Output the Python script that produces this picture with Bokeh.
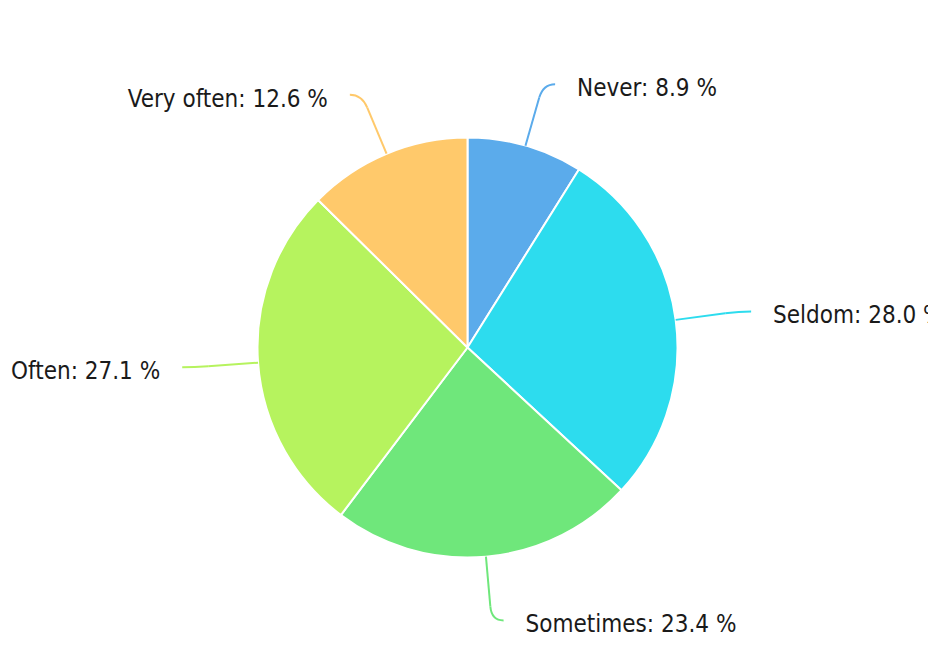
import math
from bokeh.plotting import figure
from bokeh.models import Range1d, ColumnDataSource
from bokeh.core.properties import value
from bokeh.embed import file_html
from bokeh.resources import INLINE

categories = ["Never", "Seldom", "Sometimes", "Often", "Very often"]
percent = [8.9, 28.0, 23.4, 27.1, 12.6]
colors = ["#5babeb", "#2ddcee", "#6fe77b", "#b6f35e", "#ffc96b"]

W, H = 928, 667
CX, CY = 467, H - 347
R = 210

p = figure(width=W, height=H, output_backend="svg", toolbar_location=None,
           x_axis_type=None, y_axis_type=None, min_border=0,
           x_range=Range1d(0, W), y_range=Range1d(0, H))
p.outline_line_color = None
p.grid.visible = False
p.background_fill_color = "white"
p.border_fill_color = "white"

total = sum(percent)
starts, ends, mids = [], [], []
cum = 0.0
for v in percent:
    a0 = cum / total * 2 * math.pi
    cum += v
    a1 = cum / total * 2 * math.pi
    starts.append(math.pi / 2 - a0)
    ends.append(math.pi / 2 - a1)
    mids.append((a0 + a1) / 2)

src = ColumnDataSource(dict(start=starts, end=ends, color=colors))
p.wedge(x=CX, y=CY, radius=R, start_angle="start", end_angle="end",
        direction="clock", fill_color="color", line_color="white",
        line_width=2, source=src)

labels = [f"{c}: {v:.1f} %" for c, v in zip(categories, percent)]
for m, col, lab in zip(mids, colors, labels):
    s, c = math.sin(m), math.cos(m)
    x0, y0 = CX + R * s, CY + R * c
    x1, y1 = CX + 260 * s, CY + 260 * c
    kx, ky = CX + 274 * s, CY + 274 * c
    side = 1 if s > 0 else -1
    ex, ey = kx + side * 12, ky
    p.segment(x0=[x0], y0=[y0], x1=[x1], y1=[y1], line_color=col, line_width=2)
    p.quadratic(x0=[x1], y0=[y1], x1=[ex], y1=[ey], cx=[kx], cy=[ky],
                line_color=col, line_width=2)
    p.text(x=[ex + side * 22], y=[ey - 4], text=[lab],
           text_align="left" if side > 0 else "right", text_baseline="middle",
           text_font=value("DejaVu Sans Condensed"), text_font_size="24px",
           text_color="#1a1a1a")

open("out.html", "w").write(file_html(p, INLINE))
